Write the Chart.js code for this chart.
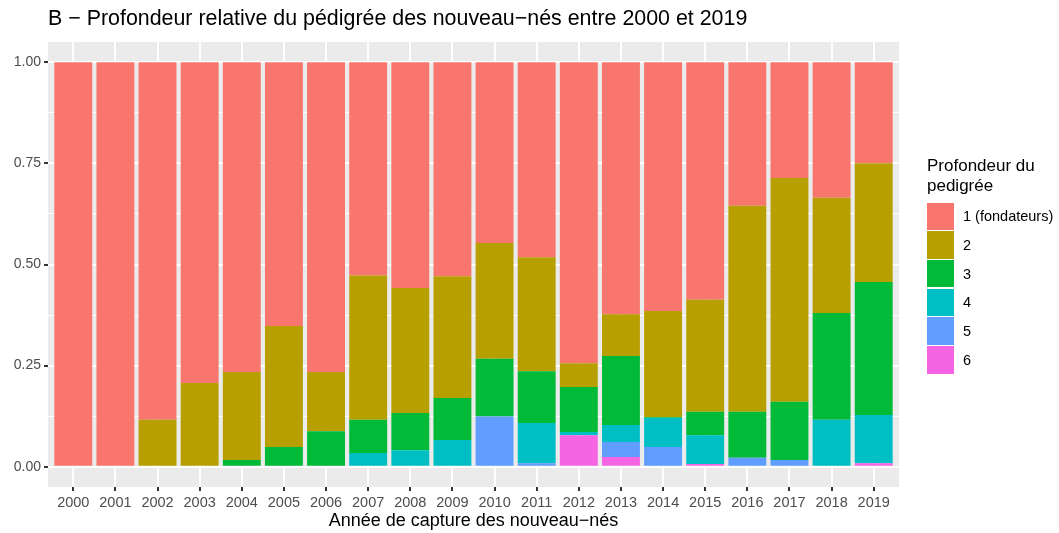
<!DOCTYPE html>
<html>
<head>
<meta charset="utf-8">
<script src="https://cdn.jsdelivr.net/npm/chart.js@4"></script>
<style>
  body { margin: 0; background: #fff; font-family: "Liberation Sans", Arial, sans-serif; }
  #wrap { position: relative; width: 1059px; height: 533px; }
  #title { position: absolute; left: 48px; top: 6px; font-size: 21.4px; color: #000; white-space: nowrap; }
  #legend { position: absolute; left: 927px; top: 156px; }
  #legend .lt { font-size: 17px; line-height: 20px; color: #000; margin-bottom: 6px; }
  #legend .it { display: flex; align-items: center; height: 28.7px; }
  #legend .sw { width: 27px; height: 27.5px; margin-right: 9px; }
  #legend .lb { font-size: 14.5px; color: #000; }
</style>
</head>
<body>
<div id="wrap">
  <canvas id="chart" width="1059" height="533"></canvas>
  <div id="title">B − Profondeur relative du pédigrée des nouveau−nés entre 2000 et 2019</div>
  <div id="legend"></div>
</div>
<script>
// années de capture
const years = [2000, 2001, 2002, 2003, 2004, 2005, 2006, 2007, 2008, 2009,
               2010, 2011, 2012, 2013, 2014, 2015, 2016, 2017, 2018, 2019];

// proportion of newborns per pedigree depth
const depth1 = [1.000, 1.000, 0.884, 0.793, 0.766, 0.652, 0.766, 0.527, 0.558, 0.529,
                0.447, 0.482, 0.744, 0.623, 0.615, 0.587, 0.355, 0.286, 0.335, 0.250];
const depth2 = [0, 0, 0.116, 0.207, 0.217, 0.299, 0.146, 0.357, 0.309, 0.301,
                0.286, 0.282, 0.059, 0.103, 0.262, 0.277, 0.509, 0.553, 0.285, 0.293];
const depth3 = [0, 0, 0, 0, 0.017, 0.049, 0.088, 0.082, 0.092, 0.104,
                0.143, 0.128, 0.111, 0.171, 0.002, 0.058, 0.114, 0.144, 0.264, 0.329];
const depth4 = [0, 0, 0, 0, 0, 0, 0, 0.034, 0.041, 0.066,
                0, 0.099, 0.008, 0.042, 0.072, 0.071, 0, 0, 0.116, 0.119];
const depth5 = [0, 0, 0, 0, 0, 0, 0, 0, 0, 0,
                0.124, 0.009, 0, 0.037, 0.049, 0, 0.022, 0.017, 0, 0];
const depth6 = [0, 0, 0, 0, 0, 0, 0, 0, 0, 0,
                0, 0, 0.078, 0.024, 0, 0.007, 0, 0, 0, 0.009];

const depthLabels = ['1 (fondateurs)', '2', '3', '4', '5', '6'];
const depthColors = ['#F8766D', '#B79F00', '#00BA38', '#00BFC4', '#619CFF', '#F564E3'];
const depthValues = [depth1, depth2, depth3, depth4, depth5, depth6];

const tickLabels = ['0.00', '0.25', '0.50', '0.75', '1.00'];

// deepest level first so that level 1 ends up on top of the stack
const datasets = depthValues.map((vals, i) => ({
  label: depthLabels[i],
  data: vals.map((v, j) => ({ x: years[j], y: v })),
  backgroundColor: depthColors[i],
  borderWidth: 0,
  barPercentage: 0.9,
  categoryPercentage: 1,
})).reverse();

const isMajor = (v) => Math.abs(v * 4 - Math.round(v * 4)) < 1e-9;

const panelBg = {
  id: 'panelBg',
  beforeDraw(chart) {
    const { ctx, chartArea: a } = chart;
    ctx.save();
    ctx.fillStyle = '#EBEBEB';
    ctx.fillRect(a.left, a.top, a.right - a.left, a.bottom - a.top);
    ctx.restore();
  }
};

new Chart(document.getElementById('chart').getContext('2d'), {
  type: 'bar',
  data: { datasets: datasets },
  options: {
    responsive: false,
    animation: false,
    layout: { padding: { left: 0, top: 42, right: 160, bottom: 0 } },
    plugins: { legend: { display: false }, tooltip: { enabled: false } },
    scales: {
      x: {
        type: 'linear',
        stacked: true,
        min: 1999.4,
        max: 2019.6,
        offset: false,
        border: { display: false },
        grid: { offset: false, color: '#FFFFFF', lineWidth: 2, tickColor: '#333333', tickLength: 4, drawTicks: true },
        ticks: {
          stepSize: 1,
          includeBounds: false,
          autoSkip: false,
          maxRotation: 0,
          padding: 3,
          color: '#4D4D4D',
          font: { family: 'Liberation Sans, Arial, sans-serif', size: 14.5 },
          callback: (v) => String(v),
        },
        title: {
          display: true,
          text: 'Année de capture des nouveau−nés',
          color: '#000000',
          font: { family: 'Liberation Sans, Arial, sans-serif', size: 18 },
          padding: { top: 0, bottom: 1 },
        },
        afterFit(scale) { scale.height = 46; },
      },
      y: {
        stacked: true,
        min: -0.05,
        max: 1.05,
        border: { display: false },
        grid: {
          color: '#FFFFFF',
          lineWidth: (c) => (isMajor(c.tick.value) ? 2 : 1),
          tickColor: (c) => (isMajor(c.tick.value) ? '#333333' : 'rgba(0,0,0,0)'),
          tickLength: 4,
        },
        ticks: {
          stepSize: 0.125,
          includeBounds: false,
          padding: 3,
          color: '#4D4D4D',
          font: { family: 'Liberation Sans, Arial, sans-serif', size: 14 },
          callback: (v) => (isMajor(v) ? tickLabels[Math.round(v * 4)] : ''),
        },
        afterFit(scale) { scale.width = 48; },
      },
    },
  },
  plugins: [panelBg],
});

// legend (ggplot style, to the right of the panel)
const legend = document.getElementById('legend');
legend.innerHTML = '<div class="lt">Profondeur du<br>pedigrée</div>' +
  depthLabels.map((l, i) =>
    '<div class="it"><div class="sw" style="background:' + depthColors[i] + '"></div>' +
    '<div class="lb">' + l + '</div></div>').join('');
</script>
</body>
</html>
